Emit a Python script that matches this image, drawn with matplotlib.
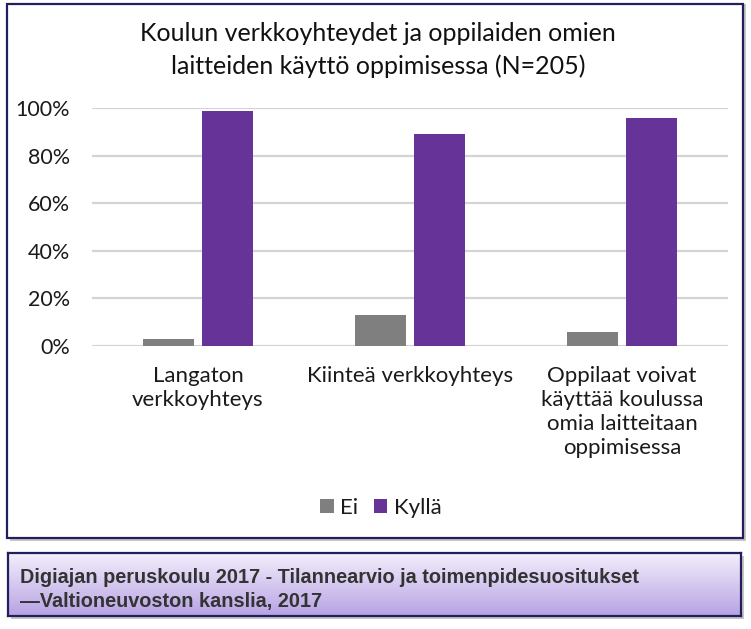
import numpy as np
import matplotlib
matplotlib.use("Agg")
import matplotlib.pyplot as plt
from matplotlib.patches import Rectangle
from matplotlib import font_manager

# data
categories = ["Langaton\nverkkoyhteys", "Kiinteä verkkoyhteys",
              "Oppilaat voivat\nkäyttää koulussa\nomia laitteitaan\noppimisessa"]
ei = [3, 13, 6]
kylla = [99, 89, 96]
yticks = [0, 20, 40, 60, 80, 100]
ytick_labels = ["0%", "20%", "40%", "60%", "80%", "100%"]
title = "Koulun verkkoyhteydet ja oppilaiden omien\nlaitteiden käyttö oppimisessa (N=205)"
source = "Digiajan peruskoulu 2017 - Tilannearvio ja toimenpidesuositukset\n\u2014Valtioneuvoston kanslia, 2017"

plt.rcParams["font.family"] = ["Lato", "DejaVu Sans"]

installed = {f.name for f in font_manager.fontManager.ttflist}
if "Liberation Sans Narrow" in installed:
    src_family, src_size = "Liberation Sans Narrow", 15.5
else:
    src_family, src_size = "Liberation Sans", 14.3

W, H = 751, 629
fig = plt.figure(figsize=(W / 100, H / 100), dpi=100)
fig.patch.set_facecolor("white")

def fx(px):
    return px / W

def fy(py):
    return 1 - py / H

navy = "#231f5e"

# outer chart frame with shadow
fig.patches.append(Rectangle((fx(10), fy(541)), fx(736), 537 / H, transform=fig.transFigure,
                             facecolor="#a0a0a0", edgecolor="none", alpha=0.6, zorder=-3))
fig.patches.append(Rectangle((fx(7), fy(538)), fx(736), 534 / H, transform=fig.transFigure,
                             facecolor="white", edgecolor=navy, linewidth=1.6, zorder=-2))

# main axes
ax = fig.add_axes([fx(92), fy(345.8), fx(636), (345.8 - 108.3) / H])
ax.set_facecolor("none")
x = np.arange(len(categories))
bw = 0.24
ax.bar(x - 0.14, ei, bw, color="#7f7f7f", label="Ei", zorder=3)
ax.bar(x + 0.14, kylla, bw, color="#663399", label="Kyllä", zorder=3)
ax.set_xlim(-0.5, 2.5)
ax.set_ylim(0, 100)
ax.set_yticks(yticks)
ax.set_yticklabels(ytick_labels)
ax.set_xticks(x)
ax.set_xticklabels(categories)
ax.yaxis.grid(True, color="#d4d4d4", linewidth=1.6, zorder=0)
ax.set_axisbelow(True)
for s in ax.spines.values():
    s.set_visible(False)
ax.tick_params(axis="y", length=0, pad=16, labelsize=15.5, labelcolor="#1a1a1a")
ax.tick_params(axis="x", length=0, pad=14.5, labelsize=16, labelcolor="#1a1a1a")
for t in ax.get_xticklabels():
    t.set_linespacing(1.25)

fig.text(fx(378), fy(50), title, ha="center", va="center", fontsize=18,
         linespacing=1.5, color="#111111")

fig.legend(loc="center", bbox_to_anchor=(fx(381), fy(508)), ncol=2, frameon=False,
           fontsize=16, handlelength=0.6, handleheight=0.6, handletextpad=0.3,
           columnspacing=0.7, labelcolor="#1a1a1a")

# source footer with gradient
fig.patches.append(Rectangle((fx(11), fy(619)), fx(733), 63 / H, transform=fig.transFigure,
                             facecolor="#a0a0a0", edgecolor="none", alpha=0.6, zorder=-3))
fax = fig.add_axes([fx(8), fy(616), fx(733), 63 / H])
grad = np.linspace(0, 1, 100).reshape(-1, 1)
cmap = matplotlib.colors.LinearSegmentedColormap.from_list("lav", ["#f3eefb", "#b7a3e4"])
fax.imshow(grad, aspect="auto", cmap=cmap, extent=(0, 1, 1, 0))
fax.set_xlim(0, 1)
fax.set_ylim(1, 0)
fax.set_xticks([])
fax.set_yticks([])
for s in fax.spines.values():
    s.set_color(navy)
    s.set_linewidth(1.6)
fax.text(12 / 733, 0.42, source, ha="left", va="center", fontsize=src_size, fontweight="bold",
         color="#333333", linespacing=1.38, transform=fax.transAxes,
         family=[src_family, "DejaVu Sans"])

fig.savefig("out.png", dpi=100)
